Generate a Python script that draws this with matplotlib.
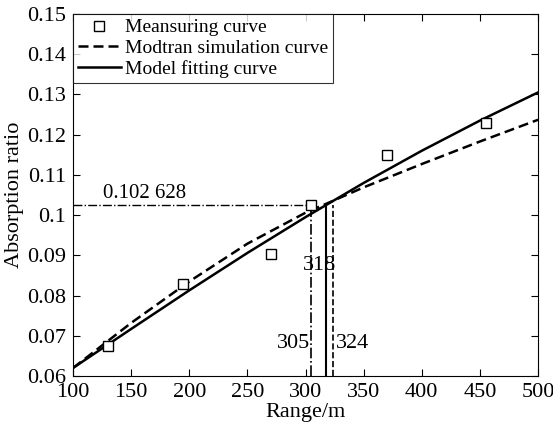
import matplotlib.pyplot as plt

# measured points
meas_x = [130, 195, 270, 305, 370, 455]
meas_y = [0.0675, 0.0828, 0.0903, 0.1026, 0.1150, 0.1228]

# curves
curve_x = [100, 150, 200, 250, 300, 320, 350, 400, 450, 500]
modtran_y = [0.0620, 0.0732, 0.0835, 0.0929, 0.1006, 0.1031, 0.1069, 0.1127, 0.1183, 0.1237]
fit_y = [0.0620, 0.0717, 0.0813, 0.0906, 0.0995, 0.1029, 0.1080, 0.1160, 0.1235, 0.1305]

level = 0.102628
range_meas = 305
range_fit = 318
range_modtran = 324

xticks = [100, 150, 200, 250, 300, 350, 400, 450, 500]
yticks = [0.06, 0.07, 0.08, 0.09, 0.1, 0.11, 0.12, 0.13, 0.14, 0.15]
ytick_labels = ['0.06', '0.07', '0.08', '0.09', '0.1', '0.11', '0.12', '0.13', '0.14', '0.15']

plt.rcParams['font.family'] = ['Liberation Serif', 'DejaVu Serif']

fig = plt.figure(figsize=(5.53, 4.23), dpi=100)
ax = fig.add_axes([0.132, 0.111, 0.841, 0.856])

ax.plot(meas_x, meas_y, 's', ms=7, mfc='white', mec='black', mew=1.0,
        label='Meansuring curve', zorder=4)
ax.plot(curve_x, modtran_y, '--', color='black', lw=1.8, dashes=(4, 2),
        label='Modtran simulation curve')
ax.plot(curve_x, fit_y, '-', color='black', lw=1.8, label='Model fitting curve')

# guide lines
ax.plot([100, range_meas], [level, level], '-.', color='black', lw=1.0)
ax.plot([range_meas, range_meas], [0.06, level], '-.', color='black', lw=1.2)
ax.plot([range_fit, range_fit], [0.06, level], '-', color='black', lw=1.5)
ax.plot([range_modtran, range_modtran], [0.06, level], '--', color='black', lw=1.2)

ax.text(126, level + 0.0004, '0.102 628', fontsize=15, ha='left', va='bottom')
ax.text(312, 0.0876, '318', fontsize=16, ha='center', va='center')
ax.text(range_meas - 1, 0.0680, '305', fontsize=16, ha='right', va='center')
ax.text(range_modtran + 2, 0.0680, '324', fontsize=16, ha='left', va='center')

ax.set_xlim(100, 500)
ax.set_ylim(0.06, 0.15)
ax.set_xticks(xticks)
ax.set_yticks(yticks)
ax.set_yticklabels(ytick_labels)
ax.tick_params(direction='in', top=True, right=True, length=5, labelsize=16, pad=5)
ax.set_xlabel('Range/m', fontsize=16, labelpad=1)
ax.set_ylabel('Absorption ratio', fontsize=16, labelpad=2)

leg = ax.legend(loc='upper left', fontsize=14, frameon=True, fancybox=False,
                borderaxespad=0, handlelength=2.2, numpoints=1,
                labelspacing=0.15, borderpad=0.25, handletextpad=0.2)
leg.get_frame().set_edgecolor('black')
leg.get_frame().set_linewidth(0.8)

fig.savefig('out.png', dpi=100)
